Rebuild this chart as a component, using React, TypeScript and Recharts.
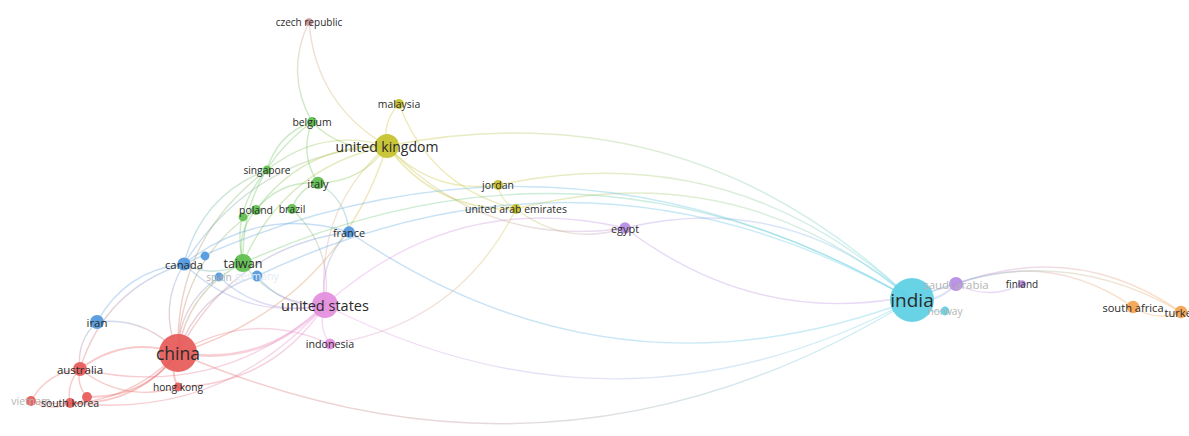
import React from 'react';
import { ScatterChart, Scatter, XAxis, YAxis } from 'recharts';

// Co-authorship map: country positions from the layout, document counts, clusters
const countries = [
  'czech republic', 'malaysia', 'belgium', 'united kingdom', 'singapore', 'italy', 'jordan',
  'poland', 'portugal', 'brazil', 'united arab emirates', 'france', 'egypt', 'netherlands',
  'canada', 'taiwan', 'spain', 'germany', 'united states', 'iran', 'indonesia', 'china',
  'australia', 'hong kong', 'vietnam', 'south korea', 'japan', 'india', 'saudi arabia',
  'norway', 'finland', 'south africa', 'turkey',
];
const mapX = [309, 399, 312, 387, 267, 318, 498, 256, 243, 292, 516, 349, 625, 205, 184, 243, 219, 257, 325, 97, 330, 178, 80, 178, 31, 70, 87, 912, 956, 945, 1022, 1133, 1181];
const mapY = [22, 104, 122, 146, 170, 183, 185, 210, 217, 209, 209, 232, 228, 256, 264, 263, 277, 276, 305, 322, 344, 353, 369, 387, 401, 403, 397, 300, 284, 311, 284, 307, 312];
const documents = [3, 5, 5, 30, 4, 8, 5, 5, 4, 5, 5, 7, 7, 4, 9, 17, 4, 6, 35, 10, 6, 75, 10, 4, 5, 5, 5, 100, 10, 4, 3, 8, 8];
const clusters = [9, 4, 2, 4, 2, 2, 4, 2, 2, 2, 4, 3, 5, 3, 3, 2, 3, 3, 8, 3, 8, 1, 1, 1, 1, 1, 1, 6, 5, 6, 5, 7, 7];

// labels drawn faded (overlapping) or not drawn at all
const fadedLabels = ['vietnam', 'spain', 'saudi arabia', 'norway'];
const ghostLabels = ['germany'];
const hiddenLabels = ['portugal', 'netherlands', 'japan'];

// links: [from, to, strength]
const links: [string, string, number][] = [
  ['czech republic', 'belgium', 1],
  ['czech republic', 'united kingdom', 1],
  ['malaysia', 'united kingdom', 1],
  ['malaysia', 'united arab emirates', 1],
  ['united kingdom', 'jordan', 1],
  ['united kingdom', 'united arab emirates', 2],
  ['united kingdom', 'egypt', 1],
  ['belgium', 'united kingdom', 1],
  ['united kingdom', 'singapore', 1],
  ['italy', 'united kingdom', 1],
  ['united kingdom', 'poland', 1],
  ['united kingdom', 'taiwan', 1],
  ['united kingdom', 'canada', 1],
  ['united kingdom', 'united states', 1],
  ['china', 'united kingdom', 1],
  ['india', 'united kingdom', 1],
  ['india', 'jordan', 1],
  ['india', 'united arab emirates', 1],
  ['belgium', 'italy', 1],
  ['belgium', 'singapore', 1],
  ['belgium', 'taiwan', 1],
  ['france', 'italy', 1],
  ['singapore', 'canada', 1],
  ['singapore', 'taiwan', 1],
  ['singapore', 'china', 1],
  ['italy', 'brazil', 1],
  ['italy', 'poland', 1],
  ['poland', 'taiwan', 1],
  ['poland', 'china', 1],
  ['united states', 'brazil', 1],
  ['jordan', 'united arab emirates', 1],
  ['united arab emirates', 'egypt', 1],
  ['india', 'egypt', 1],
  ['egypt', 'saudi arabia', 1],
  ['egypt', 'united states', 1],
  ['france', 'canada', 1],
  ['france', 'india', 1],
  ['france', 'china', 1],
  ['france', 'united states', 1],
  ['canada', 'iran', 1],
  ['canada', 'china', 1],
  ['canada', 'australia', 1],
  ['canada', 'taiwan', 1],
  ['canada', 'united states', 1],
  ['india', 'canada', 1],
  ['taiwan', 'united states', 1],
  ['taiwan', 'china', 1],
  ['india', 'taiwan', 1],
  ['spain', 'china', 1],
  ['spain', 'united states', 1],
  ['germany', 'china', 1],
  ['germany', 'united states', 1],
  ['india', 'germany', 1],
  ['china', 'united states', 3],
  ['china', 'india', 1],
  ['united states', 'india', 1],
  ['united states', 'indonesia', 1],
  ['indonesia', 'united arab emirates', 1],
  ['australia', 'united states', 1],
  ['hong kong', 'united states', 1],
  ['south korea', 'united states', 1],
  ['iran', 'australia', 1],
  ['china', 'iran', 1],
  ['indonesia', 'china', 1],
  ['china', 'australia', 2],
  ['china', 'hong kong', 2],
  ['south korea', 'china', 2],
  ['japan', 'china', 2],
  ['vietnam', 'china', 1],
  ['australia', 'vietnam', 1],
  ['australia', 'south korea', 1],
  ['australia', 'japan', 1],
  ['australia', 'hong kong', 1],
  ['vietnam', 'south korea', 1],
  ['south korea', 'japan', 1],
  ['india', 'saudi arabia', 2],
  ['india', 'norway', 1],
  ['saudi arabia', 'finland', 1],
  ['south africa', 'saudi arabia', 1],
  ['turkey', 'saudi arabia', 1],
  ['turkey', 'india', 1],
  ['south africa', 'turkey', 1],
];

const clusterColors: Record<number, string> = {
  1: '#e65a58',
  2: '#5dbe4c',
  3: '#4f97dd',
  4: '#c6c12a',
  5: '#b68be3',
  6: '#5ccfe4',
  7: '#f4a24c',
  8: '#e38ddd',
  9: '#cf9090',
};

const W = 1189;
const H = 436;

const nodes = countries.map((name, i) => ({
  name,
  x: mapX[i],
  y: mapY[i],
  docs: documents[i],
  cluster: clusters[i],
}));
const byName: Record<string, (typeof nodes)[number]> = {};
nodes.forEach((n) => (byName[n.name] = n));

const radiusOf = (docs: number) => 2.2 * Math.sqrt(docs);
const fontOf = (docs: number) => Math.max(10, 8 + 0.5 * radiusOf(docs));

// each link is drawn as a bent curve between the two scaled node centres
const makeLinkLine = (id: string, from: string, to: string, strength: number) => (props: any) => {
  const pts = props.points;
  if (!pts || pts.length < 2) return <g />;
  const [a, b] = pts;
  const dx = b.x - a.x;
  const dy = b.y - a.y;
  const bend = 0.26;
  const qx = (a.x + b.x) / 2 - dy * bend;
  const qy = (a.y + b.y) / 2 + dx * bend;
  return (
    <g>
      <defs>
        <linearGradient id={id} gradientUnits="userSpaceOnUse" x1={a.x} y1={a.y} x2={b.x} y2={b.y}>
          <stop offset="0%" stopColor={clusterColors[byName[from].cluster]} />
          <stop offset="100%" stopColor={clusterColors[byName[to].cluster]} />
        </linearGradient>
      </defs>
      <path
        d={`M${a.x},${a.y} Q${qx},${qy} ${b.x},${b.y}`}
        fill="none"
        stroke={`url(#${id})`}
        strokeWidth={0.8 + 0.6 * strength}
        strokeOpacity={0.32}
      />
    </g>
  );
};

const NodeDot = (props: any) => {
  const { cx, cy, payload } = props;
  if (cx == null || cy == null) return <g />;
  return (
    <circle cx={cx} cy={cy} r={radiusOf(payload.docs)} fill={clusterColors[payload.cluster]} fillOpacity={0.92} />
  );
};

const NodeLabel = (props: any) => {
  const { cx, cy, payload } = props;
  if (cx == null || cy == null || hiddenLabels.includes(payload.name)) return <g />;
  let fill = '#2b2b2b';
  if (fadedLabels.includes(payload.name)) fill = '#b4b4b4';
  if (ghostLabels.includes(payload.name)) fill = '#e4ebf3';
  return (
    <text
      x={cx}
      y={cy}
      textAnchor="middle"
      dominantBaseline="central"
      fontSize={fontOf(payload.docs)}
      fontFamily="'Open Sans', sans-serif"
      fill={fill}
    >
      {payload.name}
    </text>
  );
};

export default function App() {
  return (
    <div style={{ position: 'absolute', left: 0, top: 0, width: W, height: H, background: '#fff' }}>
      <ScatterChart width={W} height={H} margin={{ top: 0, right: 0, bottom: 0, left: 0 }}>
        <XAxis type="number" dataKey="x" domain={[0, W]} hide />
        <YAxis type="number" dataKey="y" domain={[0, H]} reversed hide />
        {links.map(([from, to, strength], i) => (
          <Scatter
            key={`link-${i}`}
            data={[byName[from], byName[to]]}
            fill={clusterColors[byName[from].cluster]}
            line={makeLinkLine(`link-grad-${i}`, from, to, strength)}
            shape={() => <g />}
            legendType="none"
            isAnimationActive={false}
          />
        ))}
        <Scatter data={nodes} shape={NodeDot} legendType="none" isAnimationActive={false} />
        <Scatter data={nodes} shape={NodeLabel} legendType="none" isAnimationActive={false} />
      </ScatterChart>
    </div>
  );
}
